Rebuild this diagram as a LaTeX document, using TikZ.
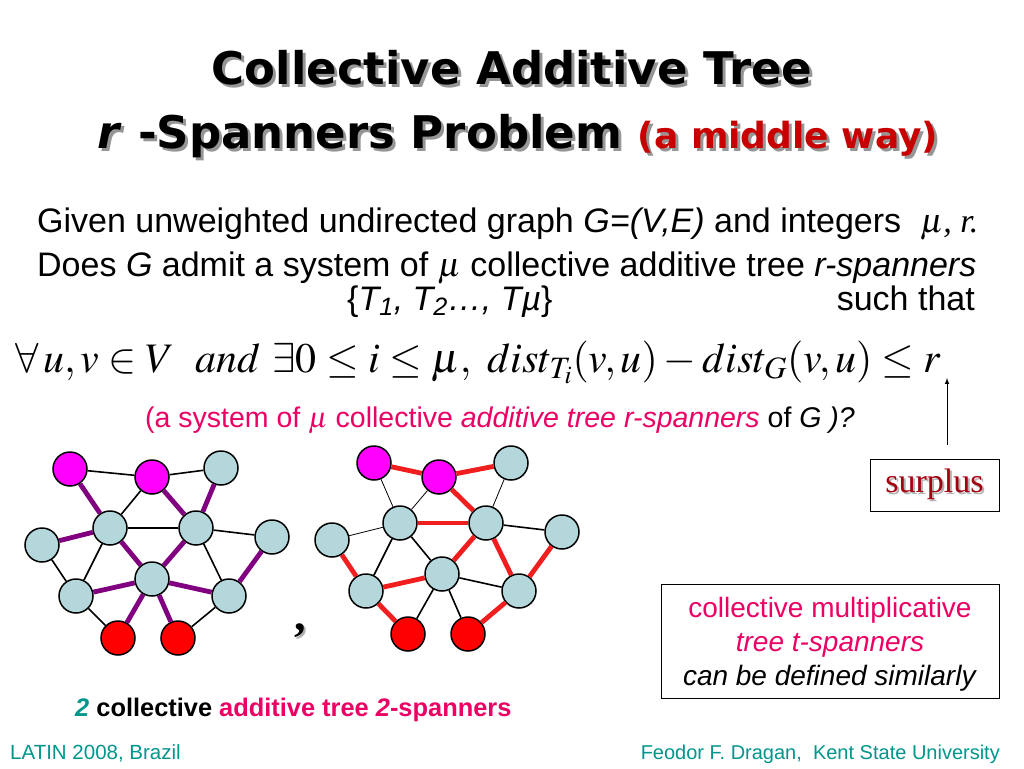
\documentclass[tikz,border=0pt]{standalone}
\usepackage{mathptmx}
\usepackage{fontspec}
\setmainfont{Liberation Sans}
\newfontfamily\titlefont{DejaVu Sans}
\newfontfamily\seriffont{Liberation Serif}

\definecolor{nodeblue}{RGB}{180,215,220}
\definecolor{nodemagenta}{RGB}{255,0,255}
\definecolor{nodered}{RGB}{255,0,0}
\definecolor{treepurple}{RGB}{128,0,128}
\definecolor{treered}{RGB}{240,30,30}
\definecolor{pinktext}{RGB}{235,0,100}
\definecolor{tealtext}{RGB}{0,150,140}
\definecolor{titlered}{RGB}{200,0,0}
\definecolor{surplusred}{RGB}{165,0,15}
\definecolor{shadowgray}{RGB}{150,150,150}

\tikzset{
  vtx/.style={circle,draw=black,line width=1.5pt,minimum size=34pt,inner sep=0pt,fill=nodeblue},
  src/.style={vtx,fill=nodemagenta},
  dst/.style={vtx,fill=nodered},
  graphedge/.style={black,line width=1.6pt},
  faintedge/.style={black,line width=0.8pt},
  purpletree/.style={treepurple,line width=4.8pt},
  redtree/.style={treered,line width=4.8pt},
  titletext/.style={anchor=base,inner sep=0pt,font=\titlefont\bfseries\fontsize{45}{54}\selectfont},
  body/.style={anchor=base west,inner sep=0pt,font=\fontsize{34}{40}\selectfont}
}

\begin{document}
\begin{tikzpicture}[x=1pt,y=-1pt]
 \fill[white] (0,0) rectangle (1024,768);
 \useasboundingbox (0,0) rectangle (1024,768);

 % title, with its shadow
 \node[titletext] (title1) at (512,84)
   {\rlap{\kern3pt\raisebox{-3pt}{\color{shadowgray}Collective Additive Tree}}Collective Additive Tree};
 \node[titletext] (title2) at (518,148)
   {\rlap{\kern3pt\raisebox{-3pt}{\color{shadowgray}\textit{r} -Spanners Problem {\fontsize{36}{40}\selectfont (a middle way)}}}%
    \textit{r} -Spanners Problem {\color{titlered}\fontsize{36}{40}\selectfont (a middle way)}};

 % problem statement
 \node[body] (given) at (37,232) {Given unweighted undirected graph \textit{G=(V,E)} and integers\ \ $\mu${\seriffont\itshape , r.}};
 \node[body] (does) at (37,276) {Does \textit{G} admit a system of $\mu$ collective additive tree \textit{r-spanners}};
 \node[body] (trees) at (347,310) {\{\textit{T\textsubscript{1}, T\textsubscript{2}\dots, T\textmu}\}};
 \node[body,anchor=base east] (such) at (975,310) {such that};
 \node[anchor=base west,inner sep=0pt,font=\fontsize{42}{48}\selectfont] (cond) at (15,372)
   {$\forall\, u,v\in V\;\ and\ \exists 0\le i\le \mu,\ dist_{T_i}(v,u)-dist_G(v,u)\le r$};
 \node[anchor=base,inner sep=0pt,text=pinktext,font=\fontsize{28.5}{32}\selectfont] (system) at (500,427)
   {(a system of $\mu$ collective \textit{additive tree r-spanners} {\color{black}of \textit{G )?}}};

 % surplus
 \coordinate (foot) at (947,445);
 \coordinate (tip) at (947,378);
 \draw[-latex,line width=1pt] (foot) -- (tip);
 \node[draw,line width=0.8pt,minimum width=129pt,minimum height=52pt,inner sep=0pt,
   text=surplusred,font=\seriffont\fontsize{34}{40}\selectfont] (surplus) at (934.5,485)
   {\rlap{\kern2pt\raisebox{-2pt}{\color{black!30}surplus}}surplus};

 % first graph
 \node[src] (gm1) at (70,469) {};
 \node[src] (gm2) at (152,477) {};
 \node[vtx] (gt) at (221,468) {};
 \node[vtx] (ga) at (110,528) {};
 \node[vtx] (gb) at (196,528) {};
 \node[vtx] (gl) at (42,545) {};
 \node[vtx] (gr) at (272,537) {};
 \node[vtx] (gc) at (152,579) {};
 \node[vtx] (gx) at (76,596) {};
 \node[vtx] (gy) at (229,596) {};
 \node[dst] (gs1) at (118,638) {};
 \node[dst] (gs2) at (178,638) {};
 \draw[graphedge] (gm1)--(gm2);
 \draw[graphedge] (gm2)--(gt);
 \draw[graphedge] (gm2)--(ga);
 \draw[graphedge] (ga)--(gb);
 \draw[graphedge] (gb)--(gr);
 \draw[graphedge] (gl)--(gx);
 \draw[graphedge] (ga)--(gx);
 \draw[graphedge] (gb)--(gy);
 \draw[graphedge] (gx)--(gs1);
 \draw[graphedge] (gy)--(gs2);
 \draw[purpletree] (gm1)--(ga);
 \draw[purpletree] (gm2)--(gb);
 \draw[purpletree] (gt)--(gb);
 \draw[purpletree] (gl)--(ga);
 \draw[purpletree] (ga)--(gc);
 \draw[purpletree] (gb)--(gc);
 \draw[purpletree] (gc)--(gx);
 \draw[purpletree] (gc)--(gy);
 \draw[purpletree] (gc)--(gs1);
 \draw[purpletree] (gc)--(gs2);
 \draw[purpletree] (gr)--(gy);

 \node[anchor=base,font=\seriffont\bfseries\fontsize{46}{46}\selectfont] (comma) at (300,630)
   {\rlap{\kern2pt\raisebox{-2pt}{\color{black!30},}},};

 % second graph
 \node[src] (hm1) at (374,463) {};
 \node[src] (hm2) at (439,477) {};
 \node[vtx] (ht) at (511,463) {};
 \node[vtx] (ha) at (400,523) {};
 \node[vtx] (hb) at (486,523) {};
 \node[vtx] (hl) at (332,540) {};
 \node[vtx] (hr) at (562,532) {};
 \node[vtx] (hc) at (442,574) {};
 \node[vtx] (hx) at (366,591) {};
 \node[vtx] (hy) at (519,591) {};
 \node[dst] (hs1) at (408,634) {};
 \node[dst] (hs2) at (468,634) {};
 \draw[faintedge] (hm1)--(ha);
 \draw[faintedge] (hm2)--(ha);
 \draw[faintedge] (ht)--(hb);
 \draw[faintedge] (hl)--(ha);
 \draw[graphedge] (ha)--(hx);
 \draw[graphedge] (ha)--(hc);
 \draw[graphedge] (hc)--(hy);
 \draw[graphedge] (hc)--(hs1);
 \draw[graphedge] (hc)--(hs2);
 \draw[graphedge] (hb)--(hr);
 \draw[redtree] (hm1)--(hm2);
 \draw[redtree] (hm2)--(ht);
 \draw[redtree] (hm2)--(hb);
 \draw[redtree] (ha)--(hb);
 \draw[redtree] (hl)--(hx);
 \draw[redtree] (hx)--(hc);
 \draw[redtree] (hc)--(hb);
 \draw[redtree] (hb)--(hy);
 \draw[redtree] (hy)--(hr);
 \draw[redtree] (hx)--(hs1);
 \draw[redtree] (hy)--(hs2);

 % remark box
 \node[draw,line width=0.8pt,minimum width=338pt,minimum height=114pt] (remark) at (830,641) {};
 \node[align=center,inner sep=0pt,font=\fontsize{28}{34}\selectfont] (remarktext) at (830,644)
   {{\color{pinktext}collective multiplicative}\\ {\color{pinktext}\itshape tree t-spanners}\\ \textit{can be defined similarly}};

 \node[anchor=base west,inner sep=0pt,font=\bfseries\fontsize{25.4}{30}\selectfont] (caption) at (75,716)
   {{\color{tealtext}\textit{2}} collective {\color{pinktext}additive tree \textit{2}-spanners}};

 % footer
 \node[anchor=base west,inner sep=0pt,text=tealtext,font=\fontsize{20.5}{24}\selectfont] (conf) at (10,759) {LATIN 2008, Brazil};
 \node[anchor=base east,inner sep=0pt,text=tealtext,font=\fontsize{20}{24}\selectfont] (author) at (1000,759) {Feodor F. Dragan,\ \ Kent State University};
\end{tikzpicture}
\end{document}
